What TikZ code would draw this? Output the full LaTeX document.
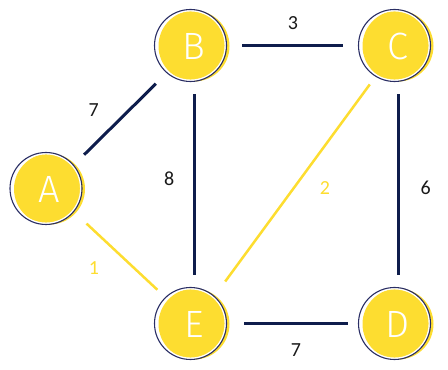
\documentclass[tikz,border=0pt]{standalone}
\usepackage{fontspec}
\setmainfont{Carlito}
\newfontfamily\vertexfont{Fira Sans Light}
\definecolor{gyellow}{RGB}{253,221,48}
\definecolor{gnavy}{RGB}{14,29,76}
\definecolor{gring}{RGB}{42,46,100}
\usetikzlibrary{positioning}

\begin{document}
\begin{tikzpicture}[x=1pt,y=1pt,
    vertex/.style={circle,fill=gyellow,minimum size=71pt,inner sep=0pt,
                   text=white,font=\vertexfont\fontsize{38}{38}\selectfont},
    heavy/.style={line width=3pt,gnavy},
    light/.style={line width=2.5pt,gyellow},
    weight/.style={font=\fontsize{20}{20}\selectfont,text=black!90}]
  \useasboundingbox (0,0) rectangle (448,370);

  % Vertices
  \node[vertex] (A) at (49.5,181) {A};
  \node[vertex] (B) at (194,324) {B};
  \node[vertex] (C) at (398,324) {C};
  \node[vertex] (D) at (398,46) {D};
  \node[vertex] (E) at (194,46) {E};

  % Offset rings round the vertices
  \foreach \v in {A,B,C,D,E} {
    \draw[white,line width=1.5pt] ([shift={(-3.5,0.5)}]\v.center) circle (34.8);
    \draw[gring,line width=1.1pt] ([shift={(-3.5,0.5)}]\v.center) circle (36);
  }

  % Dark edges
  \draw[heavy,shorten <=13pt,shorten >=18pt] (A) -- (B)
        node[weight,midway,xshift=-28pt,yshift=7.5pt] (wab) {7};
  \draw[heavy,shorten <=12.5pt,shorten >=19pt] (B) -- (C)
        node[weight,midway,xshift=-3pt,yshift=23pt] (wbc) {3};
  \draw[heavy,shorten <=12.5pt,shorten >=13.5pt] (C) -- (D)
        node[weight,midway,xshift=27.7pt,yshift=-3pt] (wcd) {6};
  \draw[heavy,shorten <=12.5pt,shorten >=13.5pt] (B) -- (E)
        node[weight,midway,xshift=-24.7pt,yshift=6pt] (wbe) {8};
  \draw[heavy,shorten <=14.5pt,shorten >=14pt] (E) -- (D)
        node[weight,midway,yshift=-26pt] (wed) {7};

  % Light edges
  \draw[light,shorten <=17pt,shorten >=12pt] (E) -- (C)
        node[weight,text=gyellow,midway,xshift=29pt,yshift=-3.3pt] (wec) {2};
  \draw[light,shorten <=15pt,shorten >=14.5pt] (A) -- (E)
        node[weight,text=gyellow,midway,xshift=-27.7pt,yshift=-11.5pt] (wae) {1};
\end{tikzpicture}
\end{document}
